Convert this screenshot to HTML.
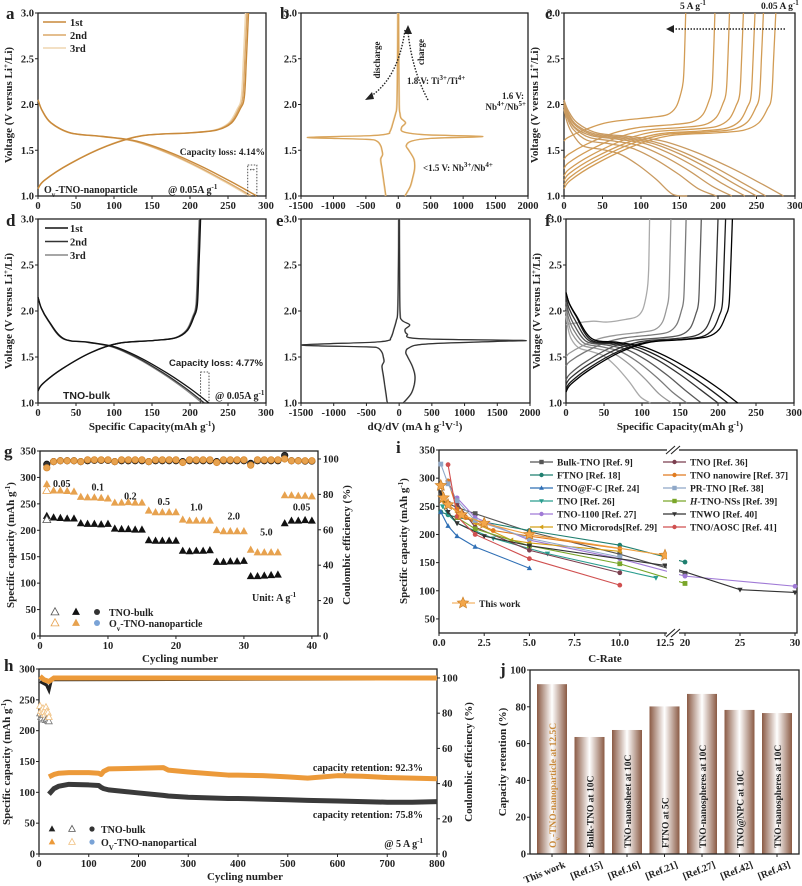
<!DOCTYPE html>
<html><head><meta charset="utf-8"><style>
html,body{margin:0;padding:0;background:#fff;}
svg{display:block;font-family:"Liberation Serif",serif;font-weight:bold;}
</style></head><body>
<svg id="fig" width="802" height="886" viewBox="0 0 802 886" xmlns="http://www.w3.org/2000/svg">
<defs>
<linearGradient id="barGrad" x1="0" x2="1" y1="0" y2="0">
<stop offset="0" stop-color="#8a5a44"/><stop offset="0.5" stop-color="#ffffff"/><stop offset="1" stop-color="#8a5a44"/>
</linearGradient>
</defs>
</svg>
<script>
// ---------- DATA ----------
const aChargeCap=[277,275,273];
const aDischargeCap=[288,281,278];
const aLabels=['1st','2nd','3rd'];
const dChargeCap=[214,213,212];
const dDischargeCap=[225,219,216];
const bChargeV=[1.0,1.1,1.2,1.3,1.4,1.5,1.55,1.6,1.63,1.65,1.67,1.7,1.75,1.8,1.85,1.9,2.0,2.5,3.0];
const bChargeQ=[100,180,220,250,240,160,120,200,500,1300,400,80,50,110,40,25,12,6,3];
const bDisV=[3.0,2.5,2.0,1.9,1.8,1.75,1.7,1.68,1.66,1.64,1.62,1.6,1.55,1.5,1.45,1.4,1.3,1.2,1.1,1.0];
const bDisQ=[-5,-10,-20,-40,-80,-100,-130,-160,-420,-1400,-500,-330,-270,-250,-240,-270,-250,-230,-210,-190];
const eChargeV=[1.0,1.1,1.2,1.3,1.4,1.5,1.55,1.6,1.64,1.67,1.68,1.7,1.75,1.8,1.85,1.9,2.0,2.5,3.0];
const eChargeQ=[60,180,230,240,200,130,100,150,400,1500,1880,300,120,90,160,40,12,6,3];
const eDisV=[3.0,2.5,2.0,1.9,1.8,1.75,1.7,1.68,1.66,1.63,1.61,1.6,1.55,1.5,1.45,1.4,1.3,1.2,1.1,1.0];
const eDisQ=[-5,-10,-20,-40,-80,-100,-130,-160,-420,-1500,-500,-330,-260,-240,-230,-260,-240,-220,-200,-180];
const cCharge=[158,196,215,233,248,259,275];
const cDischarge=[160,198,218,235,250,262,285];
const cStartV=[1.6,1.4,1.3,1.22,1.17,1.12,1.08];
const cPlateauC=[1.85,1.77,1.74,1.72,1.70,1.69,1.68];
const cPlateauD=[1.5,1.56,1.59,1.61,1.62,1.63,1.64];
const cDisStart=[1.95,1.98,2.0,2.0,2.02,2.03,2.05];
const fCharge=[110,138,158,178,200,210,219];
const fDischarge=[111,139,159,178,200,213,226];
const fStartV=[1.85,1.5,1.4,1.25,1.2,1.15,1.12];
const fPlateauC=[1.9,1.76,1.73,1.70,1.69,1.68,1.68];
const fPlateauD=[1.55,1.58,1.6,1.62,1.63,1.64,1.65];
const fDisStart=[1.95,2.0,2.05,2.1,2.15,2.2,2.2];
const gCycles=[1,2,3,4,5,6,7,8,9,10,11,12,13,14,15,16,17,18,19,20,21,22,23,24,25,26,27,28,29,30,31,32,33,34,35,36,37,38,39,40];
const gNano=[287,275,275,274,273,263,262,262,261,260,252,252,253,252,252,237,234,234,234,234,220,218,218,218,218,200,198,198,198,198,163,158,158,158,158,266,266,265,265,264];
const gBulk=[227,224,223,222,222,213,212,212,211,212,203,202,202,201,201,181,180,180,180,180,161,160,161,161,162,140,140,141,141,142,113,113,114,115,116,213,218,218,219,218];
const gCEBulk=[97,98.5,99,99,99,98.5,99,99.2,99.2,99.2,98.5,99,99,99,99,98.5,99,99,99,99,98.5,99,99,99,99,98.5,99,99,99,99,97.5,99,99,99,99,102,99,99,98.8,98.8];
const gCENano=[95,98.5,99,99,99,98.5,99.5,99.5,99.5,99.5,98.5,99.5,99.5,99.5,99.5,98.5,99.5,99.5,99.5,99.5,98,99.5,99.5,99.5,99.5,98,99.5,99.5,99.5,99.5,96.5,99.5,99.5,99.5,99.5,100,99,99,99,99];
const gRateLabels=['0.05','0.1','0.2','0.5','1.0','2.0','5.0','0.05'];
const gRateLabelCycle=[3.2,8.5,13.3,18.2,23,28.5,33.3,38.5];
const gRateLabelCap=[282,275,258,248,237,220,190,237];
const hCycles=[20,30,40,60,100,120,125,130,140,200,250,260,300,380,400,450,500,540,600,650,700,750,800];
const hNano=[125,129,131,132,132,131,129,134,138,139,140,136,133,128,128,127,125,123,127,126,124,123,122];
const hBulk=[97,106,110,113,112,111,108,106,104,99,95,94,92,90,90,89,88,87,86,85,84,84,85];
const hEarlyCycles=[2,4,6,8,10,12,14,16,18,20];
const hEarlyNano=[240,232,228,236,230,226,238,231,229,222];
const hEarlyBulk=[228,222,220,225,218,221,217,219,216,215];
const iSeriesNames=['Bulk-TNO [Ref. 9]','FTNO [Ref. 18]','TNO@F-C [Ref. 24]','TNO [Ref. 26]','TNO-1100 [Ref. 27]','TNO Microrods[Ref. 29]','TNO [Ref. 36]','TNO nanowire [Ref. 37]','PR-TNO [Ref. 38]','H-TNO-NSs [Ref. 39]','TNWO [Ref. 40]','TNO/AOSC [Ref. 41]'];
const iSeriesX=[[0.1,0.5,1,2,5,10,20],[0.1,0.5,1,2,5,10,20],[0.1,0.5,1,2,5],[0.2,0.5,1,3,6,12],[1,2,5,10,20,30],[0.2,1,2,4,5,10],[0.5,1,2,5,10],[0.5,1,1.5,3,5,10],[0.1,0.5,1,2,5,10],[1,2,5,10,20],[0.1,0.5,1,2.5,5,12.5,25,30],[0.5,1,2,5,10]];
const iSeriesY=[[270,255,248,237,205,165,131],[240,235,230,225,207,181,151],[240,215,197,178,140],[250,235,220,193,166,123],[265,230,190,157,126,108],[260,240,220,190,185,170],[295,255,213,172,132],[295,245,230,207,197,175],[325,290,260,225,193,160],[230,210,180,148,113],[275,240,220,197,180,145,102,97],[324,232,200,157,110]];
const iColors=['#555555','#1f7f6f','#2f6fb5','#2a9d8f','#a07ad6','#d4a017','#7b3f4f','#e07b20','#8fa8c8','#7aa62a','#333333','#d05050'];
const iMarkers=['sq','ci','tu','td','ci','tl','ci','ci','sq','sq','td','ci'];
const iThisX=[0.1,0.25,0.5,1.25,2.5,5,12.5];
const iThisY=[287,265,253,235,220,200,163];
const jLabels=['This work','[Ref.15]','[Ref.16]','[Ref.21]','[Ref.27]','[Ref.42]','[Ref.43]'];
const jValues=[92.3,63.6,67.4,80.2,87,78.3,76.6];
const jInside=['Oᵥ-TNO-nanoparticle at 12.5C','Bulk-TNO at 10C','TNO-nanosheet at 10C','FTNO at 5C','TNO-nanospheres at 10C','TNO@NPC at 10C','TNO-nanospheres at 10C'];

// ---------- HELPERS ----------
const NS='http://www.w3.org/2000/svg';
const svg=document.getElementById('fig');
function mk(tag,attrs,parent,name){
  const e=document.createElementNS(NS,tag);
  for(const k in attrs) e.setAttribute(k,attrs[k]);
  
  
  (parent||svg).appendChild(e);
  return e;
}
function txt(p,x,y,html,name,o){
  o=o||{};
  const e=mk('text',{x:x,y:y,'font-size':o.fs||10.5,'text-anchor':o.anchor||'start',fill:o.fill||'#222','font-family':o.ff||'"Liberation Serif",serif','font-weight':'bold'},p,name);
  if(o.rot!==undefined) e.setAttribute('transform','rotate('+o.rot+' '+x+' '+y+')');
  e.innerHTML=html;
  return e;
}
const SUP=s=>'<tspan baseline-shift="super" font-size="7">'+s+'</tspan>';
const SUB=s=>'<tspan baseline-shift="sub" font-size="7">'+s+'</tspan>';
function smooth(pts){
  let d='M'+pts[0][0].toFixed(1)+','+pts[0][1].toFixed(1);
  for(let i=0;i<pts.length-1;i++){
    const p0=pts[i-1]||pts[i],p1=pts[i],p2=pts[i+1],p3=pts[i+2]||p2;
    const c1=[p1[0]+(p2[0]-p0[0])/6,p1[1]+(p2[1]-p0[1])/6];
    const c2=[p2[0]-(p3[0]-p1[0])/6,p2[1]-(p3[1]-p1[1])/6];
    d+='C'+c1[0].toFixed(1)+','+c1[1].toFixed(1)+' '+c2[0].toFixed(1)+','+c2[1].toFixed(1)+' '+p2[0].toFixed(1)+','+p2[1].toFixed(1);
  }
  return d;
}
function axes(o){
  const g=mk('g',{},svg,o.name);
  const sx=o.sx||(v=>o.x0+(v-o.xmin)/(o.xmax-o.xmin)*(o.x1-o.x0));
  const sy=v=>o.y1-(v-o.ymin)/(o.ymax-o.ymin)*(o.y1-o.y0);
  mk('rect',{x:o.x0,y:o.y0,width:o.x1-o.x0,height:o.y1-o.y0,fill:'none',stroke:'#222','stroke-width':1.3},g,o.name+'-frame');
  (o.xt||[]).forEach((v,i)=>{
    const x=sx(v);
    mk('line',{x1:x,x2:x,y1:o.y1,y2:o.y1+3,stroke:'#222','stroke-width':1},g,'x-tick');
    if(o.xl!==false) txt(g,x,o.y1+13,(o.xlab?o.xlab[i]:String(v)),'x-tick-label',{anchor:'middle'});
  });
  (o.yt||[]).forEach((v,i)=>{
    const y=sy(v);
    mk('line',{x1:o.x0-3,x2:o.x0,y1:y,y2:y,stroke:'#222','stroke-width':1},g,'y-tick');
    txt(g,o.x0-4,y+3.5,(o.ylab?o.ylab[i]:String(v)),'y-tick-label',{anchor:'end'});
  });
  return {g,sx,sy};
}
function chargePts(Q,Vs,Vp,A){
  const d=Vp-Vs;
  const F=[0,0.03,0.15,0.33,0.5,0.72,0.85,0.92,0.96,0.98,0.99,1];
  const V=[Vs,Vs+.15*d,Vs+.45*d,Vs+.78*d,Vp-.02,Vp+.01,Vp+.04,Vp+.12,Vp+.27,Vp+.4,2.5,3.0];
  return F.map((f,i)=>[A.sx(f*Q),A.sy(V[i])]);
}
function dischargePts(Q,V0,Vd,A){
  const F=[0,0.02,0.06,0.15,0.3,0.45,0.6,0.75,0.88,1];
  const V=[V0,V0-.12,V0-.25,Vd+.05,Vd+.01,Vd-.04,Vd-.16,Vd-.32,Vd-.48,1.0];
  return F.map((f,i)=>[A.sx(f*Q),A.sy(V[i])]);
}
function marker(p,type,x,y,r,fill,stroke,name){
  let e;
  if(type==='ci') e=mk('circle',{cx:x,cy:y,r:r,fill:fill,stroke:stroke||'none','stroke-width':0.8},p,name);
  else if(type==='sq') e=mk('rect',{x:x-r,y:y-r,width:2*r,height:2*r,fill:fill,stroke:stroke||'none'},p,name);
  else {
    let pts;
    if(type==='tu') pts=[[x,y-r*1.2],[x-r*1.1,y+r*0.8],[x+r*1.1,y+r*0.8]];
    if(type==='td') pts=[[x,y+r*1.2],[x-r*1.1,y-r*0.8],[x+r*1.1,y-r*0.8]];
    if(type==='tl') pts=[[x-r*1.2,y],[x+r*0.8,y-r*1.1],[x+r*0.8,y+r*1.1]];
    e=mk('polygon',{points:pts.map(q=>q.join(',')).join(' '),fill:fill,stroke:stroke||'none','stroke-width':0.8},p,name);
  }
  return e;
}
function star(p,x,y,r,fill,name){
  const pts=[];
  for(let k=0;k<10;k++){const a=-Math.PI/2+k*Math.PI/5;const rr=k%2?r*0.45:r;pts.push((x+rr*Math.cos(a)).toFixed(1)+','+(y+rr*Math.sin(a)).toFixed(1));}
  return mk('polygon',{points:pts.join(' '),fill:fill,stroke:'#c77a20','stroke-width':0.6},p,name);
}
const vTitle='Voltage (V versus Li'+SUP('+')+'/Li)';
const capTitle='Specific Capacity(mAh g'+SUP('-1')+')';
const vTicks=[1.0,1.5,2.0,2.5,3.0];
const vLabs=['1.0','1.5','2.0','2.5','3.0'];

// ---------- PANEL LETTERS ----------
[['a',6,19],['b',280,19],['c',545,19],['d',6,226],['e',276,226],['f',545,226],['g',4,457],['i',396,453],['h',4,671],['j',500,675]].forEach(l=>{
  txt(svg,l[1],l[2],l[0],'panel-label-'+l[0],{fs:17});
});

// ---------- PANEL A ----------
(function(){
  const A=axes({name:'panel-a',x0:38,x1:266,y0:13,y1:196,xmin:0,xmax:300,ymin:1,ymax:3,xt:[0,50,100,150,200,250,300],yt:vTicks,ylab:vLabs});
  txt(A.g,12,105,vTitle,'y-axis-title',{anchor:'middle',rot:-90,fs:11});
  const cols=['#c8893a','#dba868','#efd6b0'];
  for(let i=2;i>=0;i--){
    mk('path',{d:smooth(chargePts(aChargeCap[i],1.08,1.68,A)),fill:'none',stroke:cols[i],'stroke-width':1.4},A.g,'charge-curve-'+aLabels[i]);
    mk('path',{d:smooth(dischargePts(aDischargeCap[i],2.05,1.64,A)),fill:'none',stroke:cols[i],'stroke-width':1.4},A.g,'discharge-curve-'+aLabels[i]);
  }
  aLabels.forEach((l,i)=>{
    const y=22+i*13;
    mk('line',{x1:43,x2:66,y1:y,y2:y,stroke:cols[i],'stroke-width':1.6},A.g,'legend-line');
    txt(A.g,70,y+4,l,'legend-entry',{fs:10.5});
  });
  txt(A.g,265,155,'Capacity loss: 4.14%','capacity-loss-note',{anchor:'end',fs:9.5});
  mk('rect',{x:A.sx(276),y:165,width:A.sx(288)-A.sx(276),height:31,fill:'none',stroke:'#222','stroke-width':0.8,'stroke-dasharray':'1.5,1.5'},A.g,'capacity-loss-bracket');
  txt(A.g,A.sx(282),171,'↔','capacity-loss-arrow',{anchor:'middle',fs:8});
  txt(A.g,44,193,'O'+SUB('v')+'-TNO-nanoparticle','sample-label',{fs:10});
  txt(A.g,168,193,'@ 0.05A g'+SUP('-1'),'current-label',{fs:10});
})();

// ---------- PANEL B ----------
(function(){
  const A=axes({name:'panel-b',x0:301,x1:528,y0:13,y1:196,xmin:-1500,xmax:2000,ymin:1,ymax:3,xt:[-1500,-1000,-500,0,500,1000,1500,2000],yt:vTicks,ylab:vLabs});
  [['#efd6b0',8],['#d9a55c',0]].forEach(c=>{
    mk('path',{d:smooth(bChargeV.map((v,i)=>[A.sx(bChargeQ[i]+c[1]),A.sy(v)])),fill:'none',stroke:c[0],'stroke-width':1.3},A.g,'dqdv-charge-branch');
    mk('path',{d:smooth(bDisV.map((v,i)=>[A.sx(bDisQ[i]-c[1]),A.sy(v)])),fill:'none',stroke:c[0],'stroke-width':1.3},A.g,'dqdv-discharge-branch');
  });
  mk('path',{d:'M405,30 Q398,80 368,98',fill:'none',stroke:'#222','stroke-width':1.4,'stroke-dasharray':'1.5,1.5'},A.g,'discharge-arrow');
  mk('polygon',{points:'365,100 372,92 374,99',fill:'#222'},A.g,'discharge-arrowhead');
  mk('path',{d:'M428,100 Q412,70 408,32',fill:'none',stroke:'#222','stroke-width':1.4,'stroke-dasharray':'1.5,1.5'},A.g,'charge-arrow');
  mk('polygon',{points:'408,25 404,34 412,34',fill:'#222'},A.g,'charge-arrowhead');
  txt(A.g,380,60,'discharge','discharge-label',{anchor:'middle',rot:-90,fs:9});
  txt(A.g,424,52,'charge','charge-label',{anchor:'middle',rot:-90,fs:9});
  txt(A.g,407,84,'1.8 V: Ti'+SUP('3+')+'/Ti'+SUP('4+'),'ti-redox-label',{fs:9});
  txt(A.g,524,99,'1.6 V:','nb-redox-label',{anchor:'end',fs:9});
  txt(A.g,526,110,'Nb'+SUP('4+')+'/Nb'+SUP('5+'),'nb-redox-label-2',{anchor:'end',fs:9});
  txt(A.g,423,171,'&lt;1.5 V: Nb'+SUP('3+')+'/Nb'+SUP('4+'),'nb-low-redox-label',{fs:9});
})();

// ---------- PANEL C ----------
(function(){
  const A=axes({name:'panel-c',x0:564,x1:795,y0:13,y1:196,xmin:0,xmax:300,ymin:1,ymax:3,xt:[0,50,100,150,200,250,300],yt:vTicks,ylab:vLabs});
  txt(A.g,538,105,vTitle,'y-axis-title',{anchor:'middle',rot:-90,fs:11});
  cCharge.forEach((q,i)=>{
    mk('path',{d:smooth(chargePts(q,cStartV[i],cPlateauC[i],A)),fill:'none',stroke:'#d29c55','stroke-width':1.3},A.g,'rate-charge-curve');
    mk('path',{d:smooth(dischargePts(cDischarge[i],cDisStart[i],cPlateauD[i],A)),fill:'none',stroke:'#c99a60','stroke-width':1.3},A.g,'rate-discharge-curve');
  });
  txt(A.g,680,9,'5 A g'+SUP('-1'),'rate-label-high',{fs:9.5});
  txt(A.g,761,9,'0.05 A g'+SUP('-1'),'rate-label-low',{fs:9.5});
  mk('line',{x1:785,x2:672,y1:29,y2:29,stroke:'#222','stroke-width':1.4,'stroke-dasharray':'1.5,1.5'},A.g,'rate-arrow');
  mk('polygon',{points:'666,29 674,25 674,33',fill:'#222'},A.g,'rate-arrowhead');
})();

// ---------- PANEL D ----------
(function(){
  const A=axes({name:'panel-d',x0:38,x1:266,y0:219,y1:403,xmin:0,xmax:300,ymin:1,ymax:3,xt:[0,50,100,150,200,250,300],yt:vTicks,ylab:vLabs});
  txt(A.g,12,311,vTitle,'y-axis-title',{anchor:'middle',rot:-90,fs:11});
  txt(A.g,152,430,capTitle,'x-axis-title',{anchor:'middle',fs:11});
  const cols=['#111','#333','#888'];
  for(let i=2;i>=0;i--){
    mk('path',{d:smooth(chargePts(dChargeCap[i],1.13,1.67,A)),fill:'none',stroke:cols[i],'stroke-width':1.3},A.g,'charge-curve-'+aLabels[i]);
    mk('path',{d:smooth(dischargePts(dDischargeCap[i],2.15,1.65,A)),fill:'none',stroke:cols[i],'stroke-width':1.3},A.g,'discharge-curve-'+aLabels[i]);
  }
  aLabels.forEach((l,i)=>{
    const y=228+i*13.5;
    mk('line',{x1:45,x2:68,y1:y,y2:y,stroke:cols[i],'stroke-width':1.6},A.g,'legend-line');
    txt(A.g,70,y+4,l,'legend-entry',{fs:10.5});
  });
  txt(A.g,263,366,'Capacity loss: 4.77%','capacity-loss-note',{anchor:'end',fs:9.5,ff:'"Liberation Sans",sans-serif'});
  mk('rect',{x:A.sx(214),y:372,width:A.sx(225)-A.sx(214),height:31,fill:'none',stroke:'#222','stroke-width':0.8,'stroke-dasharray':'1.5,1.5'},A.g,'capacity-loss-bracket');
  txt(A.g,63,399,'TNO-bulk','sample-label',{fs:10.5,ff:'"Liberation Sans",sans-serif'});
  txt(A.g,215,399,'@ 0.05A g'+SUP('-1'),'current-label',{fs:10});
})();

// ---------- PANEL E ----------
(function(){
  const A=axes({name:'panel-e',x0:301,x1:530,y0:219,y1:403,xmin:-1500,xmax:2000,ymin:1,ymax:3,xt:[-1500,-1000,-500,0,500,1000,1500,2000],yt:vTicks,ylab:vLabs});
  txt(A.g,415,430,'dQ/dV (mA h g'+SUP('-1')+'V'+SUP('-1')+')','x-axis-title',{anchor:'middle',fs:11});
  [['#999',6],['#333',0]].forEach(c=>{
    mk('path',{d:smooth(eChargeV.map((v,i)=>[A.sx(eChargeQ[i]+c[1]),A.sy(v)])),fill:'none',stroke:c[0],'stroke-width':1.2},A.g,'dqdv-charge-branch');
    mk('path',{d:smooth(eDisV.map((v,i)=>[A.sx(eDisQ[i]-c[1]),A.sy(v)])),fill:'none',stroke:c[0],'stroke-width':1.2},A.g,'dqdv-discharge-branch');
  });
})();

// ---------- PANEL F ----------
(function(){
  const A=axes({name:'panel-f',x0:566,x1:794,y0:219,y1:403,xmin:0,xmax:300,ymin:1,ymax:3,xt:[0,50,100,150,200,250,300],yt:vTicks,ylab:vLabs});
  txt(A.g,540,311,vTitle,'y-axis-title',{anchor:'middle',rot:-90,fs:11});
  txt(A.g,680,430,capTitle,'x-axis-title',{anchor:'middle',fs:11});
  const cols=['#aaaaaa','#999999','#7a7a7a','#5a5a5a','#333333','#1a1a1a','#000000'];
  fCharge.forEach((q,i)=>{
    mk('path',{d:smooth(chargePts(q,fStartV[i],fPlateauC[i],A)),fill:'none',stroke:cols[i],'stroke-width':1.3},A.g,'rate-charge-curve');
    mk('path',{d:smooth(dischargePts(fDischarge[i],fDisStart[i],fPlateauD[i],A)),fill:'none',stroke:cols[i],'stroke-width':1.3},A.g,'rate-discharge-curve');
  });
})();

// ---------- PANEL G ----------
(function(){
  const A=axes({name:'panel-g',x0:40,x1:318,y0:451,y1:636,xmin:0,xmax:40.9,ymin:0,ymax:350,xt:[0,10,20,30,40],yt:[0,50,100,150,200,250,300,350]});
  const syR=v=>636-v/104.5*185;
  [0,20,40,60,80,100].forEach(v=>{
    mk('line',{x1:318,x2:321,y1:syR(v),y2:syR(v),stroke:'#222'},A.g,'right-y-tick');
    txt(A.g,323,syR(v)+3.5,String(v),'right-y-tick-label',{});
  });
  txt(A.g,14,545,'Specific capacity (mAh g'+SUP('-1')+')','y-axis-title',{anchor:'middle',rot:-90,fs:11});
  txt(A.g,350,545,'Coulombic efficiency (%)','right-y-axis-title',{anchor:'middle',rot:-90,fs:11});
  txt(A.g,180,662,'Cycling number','x-axis-title',{anchor:'middle',fs:11});
  gCycles.forEach((c,i)=>{
    marker(A.g,'ci',A.sx(c),syR(gCEBulk[i]),3.2,'#333','#111','ce-bulk-point');
    marker(A.g,'ci',A.sx(c),syR(gCENano[i]),3.2,'#e7a24f','#d98a30','ce-nano-point');
  });
  gCycles.forEach((c,i)=>{
    marker(A.g,'tu',A.sx(c),A.sy(gBulk[i]),3.6,'#111','none','bulk-capacity-point');
    marker(A.g,'tu',A.sx(c),A.sy(gNano[i]),3.6,'#e7a24f','none','nano-capacity-point');
  });
  marker(A.g,'tu',A.sx(1),A.sy(220),3.6,'#fff','#555','bulk-discharge-point');
  marker(A.g,'tu',A.sx(1),A.sy(275),3.6,'#fff','#e7a24f','nano-discharge-point');
  gRateLabels.forEach((l,i)=>txt(A.g,A.sx(gRateLabelCycle[i]),A.sy(gRateLabelCap[i]),l,'rate-label',{anchor:'middle',fs:10}));
  txt(A.g,252,601,'Unit: A g'+SUP('-1'),'unit-label',{fs:10});
  marker(A.g,'tu',55,612,3.6,'#fff','#555','legend-symbol');
  marker(A.g,'tu',76,612,3.6,'#111','none','legend-symbol');
  marker(A.g,'ci',97,612,3,'#333','none','legend-symbol');
  txt(A.g,109,616,'TNO-bulk','legend-entry',{fs:10});
  marker(A.g,'tu',55,623,3.6,'#fff','#e7a24f','legend-symbol');
  marker(A.g,'tu',76,623,3.6,'#e7a24f','none','legend-symbol');
  marker(A.g,'ci',97,623,3,'#7aa3d6','none','legend-symbol');
  txt(A.g,109,627,'O'+SUB('v')+'-TNO-nanoparticle','legend-entry',{fs:10});
})();

// ---------- PANEL I ----------
(function(){
  const sx=v=>v<=12.5?439+v*18.08:685+(v-20)*11;
  const A=axes({name:'panel-i',x0:439,x1:797,y0:450,y1:633,xmin:0,xmax:30,ymin:25,ymax:350,sx:sx,xt:[0,2.5,5,7.5,10,12.5,20,25,30],xlab:['0.0','2.5','5.0','7.5','10.0','12.5','20','25','30'],yt:[50,100,150,200,250,300,350]});
  txt(A.g,407,541,'Specific capacity (mAh g'+SUP('-1')+')','y-axis-title',{anchor:'middle',rot:-90,fs:11});
  txt(A.g,605,662,'C-Rate','x-axis-title',{anchor:'middle',fs:11});
  iSeriesNames.forEach((n,s)=>{
    const pts=iSeriesX[s].map((x,k)=>[A.sx(x),A.sy(iSeriesY[s][k])]);
    mk('polyline',{points:pts.map(p=>p.join(',')).join(' '),fill:'none',stroke:iColors[s],'stroke-width':1.1},A.g,'series-line');
    pts.forEach(p=>marker(A.g,iMarkers[s],p[0],p[1],2.4,iColors[s],'none','series-point'));
  });
  const tp=iThisX.map((x,k)=>[A.sx(x),A.sy(iThisY[k])]);
  mk('polyline',{points:tp.map(p=>p.join(',')).join(' '),fill:'none',stroke:'#f0a040','stroke-width':1.1},A.g,'this-work-line');
  tp.forEach(p=>star(A.g,p[0],p[1],6,'#f3a64a','this-work-point'));
  mk('rect',{x:667,y:451,width:12,height:181,fill:'#fff'},A.g,'axis-break-gap');
  mk('rect',{x:667,y:448,width:12,height:5,fill:'#fff'},A.g,'axis-break-top');
  mk('rect',{x:667,y:630,width:12,height:6,fill:'#fff'},A.g,'axis-break-bottom');
  [[666,675],[671,680]].forEach(b=>{
    mk('line',{x1:b[0],y1:454,x2:b[1],y2:446,stroke:'#222','stroke-width':1.1},A.g,'break-mark');
    mk('line',{x1:b[0],y1:637,x2:b[1],y2:629,stroke:'#222','stroke-width':1.1},A.g,'break-mark');
  });
  iSeriesNames.forEach((n,s)=>{
    const col=s<6?0:1, row=s%6;
    const x=col===0?530:663, y=462+row*13;
    mk('line',{x1:x,x2:x+23,y1:y,y2:y,stroke:iColors[s],'stroke-width':1.2},A.g,'legend-line');
    marker(A.g,iMarkers[s],x+11.5,y,2.2,iColors[s],'none','legend-marker');
    let label=n.replace('H-TNO','<tspan font-style="italic">H</tspan>-TNO');
    txt(A.g,x+27,y+3.5,label,'legend-entry',{fs:9.5});
  });
  mk('line',{x1:452,x2:475,y1:603,y2:603,stroke:'#f0a040','stroke-width':1.1},A.g,'legend-line');
  star(A.g,463,603,6,'#f3a64a','legend-marker');
  txt(A.g,479,607,'This work','legend-entry',{fs:9.5});
})();

// ---------- PANEL H ----------
(function(){
  const A=axes({name:'panel-h',x0:39,x1:437,y0:669,y1:854,xmin:0,xmax:800,ymin:0,ymax:300,xt:[0,100,200,300,400,500,600,700,800],yt:[0,50,100,150,200,250,300]});
  const syR=v=>854-v/105.1*185;
  [0,20,40,60,80,100].forEach(v=>{
    mk('line',{x1:437,x2:440,y1:syR(v),y2:syR(v),stroke:'#222'},A.g,'right-y-tick');
    txt(A.g,442,syR(v)+3.5,String(v),'right-y-tick-label',{});
  });
  txt(A.g,10,762,'Specific capacity (mAh g'+SUP('-1')+')','y-axis-title',{anchor:'middle',rot:-90,fs:11});
  txt(A.g,472,762,'Coulombic efficiency (%)','right-y-axis-title',{anchor:'middle',rot:-90,fs:11});
  txt(A.g,245,880,'Cycling number','x-axis-title',{anchor:'middle',fs:11});
  mk('polyline',{points:[[A.sx(2),syR(98)],[A.sx(15),syR(96)],[A.sx(20),syR(93)],[A.sx(25),syR(99)],[A.sx(800),syR(99.5)]].map(p=>p.join(',')).join(' '),fill:'none',stroke:'#222','stroke-width':3},A.g,'ce-bulk-line');
  mk('polyline',{points:[[A.sx(2),syR(101)],[A.sx(10),syR(99)],[A.sx(20),syR(98)],[A.sx(30),syR(100)],[A.sx(800),syR(100)]].map(p=>p.join(',')).join(' '),fill:'none',stroke:'#ec9a3a','stroke-width':5},A.g,'ce-nano-line');
  hEarlyCycles.forEach((c,i)=>{
    marker(A.g,'tu',A.sx(c),A.sy(hEarlyBulk[i]),3,'#fff','#777','early-bulk-point');
    marker(A.g,'tu',A.sx(c),A.sy(hEarlyNano[i]),3,'#fff','#f0c080','early-nano-point');
  });
  mk('polyline',{points:hCycles.map((c,i)=>A.sx(c)+','+A.sy(hBulk[i])).join(' '),fill:'none',stroke:'#3a3a3a','stroke-width':5,'stroke-linejoin':'round'},A.g,'bulk-capacity-band');
  mk('polyline',{points:hCycles.map((c,i)=>A.sx(c)+','+A.sy(hNano[i])).join(' '),fill:'none',stroke:'#ec9a3a','stroke-width':5,'stroke-linejoin':'round'},A.g,'nano-capacity-band');
  txt(A.g,423,771,'capacity retention: 92.3%','retention-nano-label',{anchor:'end',fs:10});
  txt(A.g,423,818,'capacity retention: 75.8%','retention-bulk-label',{anchor:'end',fs:10});
  txt(A.g,423,847,'@ 5 A g'+SUP('-1'),'current-label',{anchor:'end',fs:10});
  marker(A.g,'tu',52,829,3,'#222','none','legend-symbol');
  marker(A.g,'tu',72,829,3,'#fff','#555','legend-symbol');
  marker(A.g,'ci',92,829,2.6,'#333','none','legend-symbol');
  txt(A.g,101,833,'TNO-bulk','legend-entry',{fs:10});
  marker(A.g,'tu',52,842,3,'#ec9a3a','none','legend-symbol');
  marker(A.g,'tu',72,842,3,'#fff','#f0c080','legend-symbol');
  marker(A.g,'ci',92,842,2.6,'#7aa3d6','none','legend-symbol');
  txt(A.g,101,846,'O'+SUB('V')+'-TNO-nanopartical','legend-entry',{fs:10});
})();

// ---------- PANEL J ----------
(function(){
  const x0=530,x1=799,y0=670,y1=854;
  const g=mk('g',{},svg,'panel-j');
  const sy=v=>y1-v/100*(y1-y0);
  const sx=i=>552+i*37.5;
  jValues.forEach((v,i)=>{
    mk('rect',{x:sx(i)-15,y:sy(v),width:30,height:y1-sy(v),fill:'url(#barGrad)'},g,'bar-'+jLabels[i].replace(/[\[\]\.]/g,'').replace(' ','-').toLowerCase());
    txt(g,sx(i)+4,y1-6,jInside[i].replace('Oᵥ','O'+SUB('v')),'bar-inner-label',{rot:-90,fs:9.5,fill:i===0?'#c8893a':'#222'});
  });
  mk('rect',{x:x0,y:y0,width:x1-x0,height:y1-y0,fill:'none',stroke:'#222','stroke-width':1.3},g,'frame');
  [0,20,40,60,80,100].forEach(v=>{
    mk('line',{x1:x0-3,x2:x0,y1:sy(v),y2:sy(v),stroke:'#222'},g,'y-tick');
    txt(g,x0-4,sy(v)+3.5,String(v),'y-tick-label',{anchor:'end'});
  });
  txt(g,506,762,'Capacity retention (%)','y-axis-title',{anchor:'middle',rot:-90,fs:11});
  jLabels.forEach((l,i)=>{
    mk('line',{x1:sx(i),x2:sx(i),y1:y1,y2:y1+3,stroke:'#222'},g,'x-tick');
    txt(g,sx(i)+14,y1+13,l,'x-tick-label',{anchor:'end',rot:-22,fs:10});
  });
})();
</script>
</body></html>
